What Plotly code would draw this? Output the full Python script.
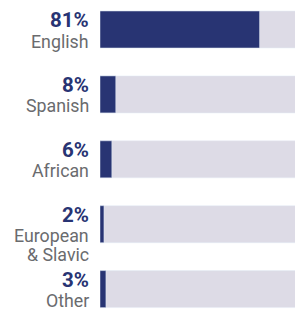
import plotly.graph_objects as go

categories = ["English", "Spanish", "African", "European<br>& Slavic", "Other"]
values = [81, 8, 6, 2, 3]
pct_labels = ["81%", "8%", "6%", "2%", "3%"]
totals = [100, 100, 100, 100, 100]

NAVY = "#283473"
TRACK = "#dddbe6"
GRAY = "#6a6b6e"

pos = list(range(len(categories)))

fig = go.Figure()
fig.add_trace(go.Bar(x=totals, y=pos, orientation="h", marker_color=TRACK,
                     width=0.57, hoverinfo="skip", showlegend=False))
fig.add_trace(go.Bar(x=values, y=pos, orientation="h", marker_color=NAVY,
                     width=0.57, showlegend=False))

for i, (p, c) in enumerate(zip(pct_labels, categories)):
    fig.add_annotation(x=0, y=i, xref="x", yref="y", text="<b>%s</b>" % p,
                       showarrow=False, xanchor="right", yanchor="middle",
                       xshift=-9, yshift=9.5,
                       font=dict(family="Roboto", size=20.5, color=NAVY))
    for k, line in enumerate(c.split("<br>")):
        fig.add_annotation(x=0, y=i, xref="x", yref="y", text=line,
                           showarrow=False, xanchor="right", yanchor="middle",
                           xshift=-9, yshift=-11.5 - 19 * k, align="right",
                           font=dict(family="Roboto", size=17.8, color=GRAY))

fig.update_layout(
    width=295, height=303,
    margin=dict(l=92, r=6, t=0, b=0),
    barmode="overlay",
    plot_bgcolor="white", paper_bgcolor="white",
    xaxis=dict(range=[0, 100], visible=False, fixedrange=True),
    yaxis=dict(range=[4.3374, -0.3313], visible=False, fixedrange=True),
    font=dict(family="Roboto"),
)
fig.write_html("out.html")
